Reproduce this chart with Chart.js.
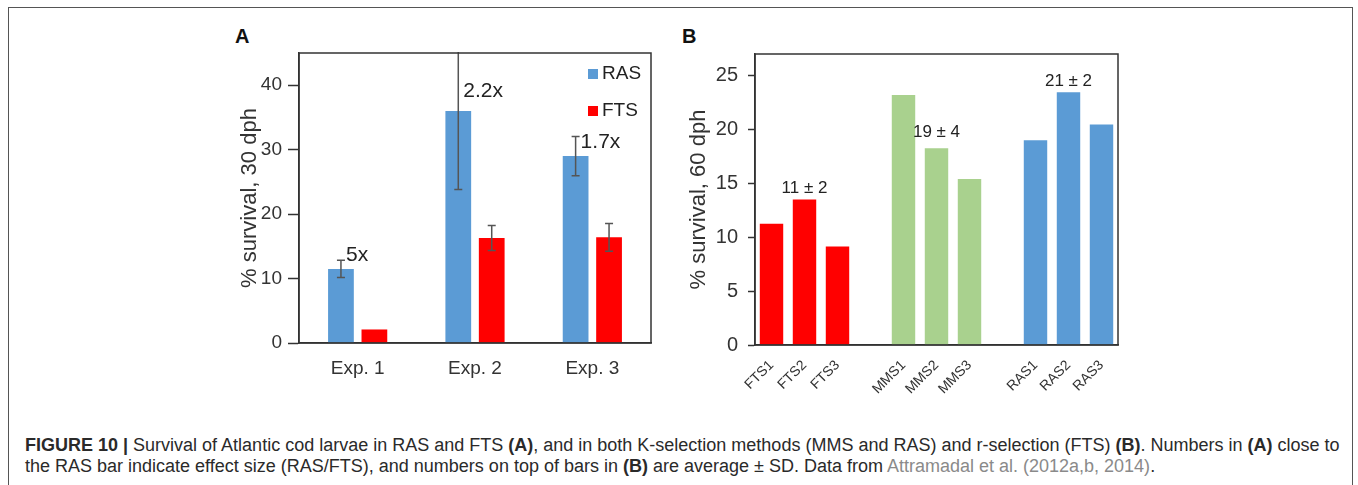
<!DOCTYPE html>
<html>
<head>
<meta charset="utf-8">
<script src="https://cdn.jsdelivr.net/npm/chart.js@4.4.0/dist/chart.umd.min.js"></script>
<style>
body { margin: 0; background: #fff; width: 1358px; height: 485px; overflow: hidden; position: relative; font-family: "Liberation Sans", Arial, sans-serif; }
#frame { position: absolute; left: 8px; top: 7px; width: 1345px; height: 520px; border: 1.5px solid #555; box-sizing: border-box; }
.panel { position: absolute; }
.tag { position: absolute; font-weight: bold; font-size: 20px; color: #111; }
#caption { position: absolute; left: 25px; top: 435px; font-size: 18px; color: #2a2a2a; line-height: 21px; white-space: nowrap; }
#caption .cite { color: #8a8a8a; }
</style>
</head>
<body>
<div id="frame"></div>
<div class="tag" style="left:235px;top:25px;">A</div>
<div class="tag" style="left:682px;top:25px;">B</div>
<div class="panel" style="left:220px;top:20px;width:440px;height:370px;"><canvas id="chartA"></canvas></div>
<div class="panel" style="left:660px;top:20px;width:480px;height:380px;"><canvas id="chartB"></canvas></div>
<div id="caption">
<div><b>FIGURE 10 |</b> Survival of Atlantic cod larvae in RAS and FTS <b>(A)</b>, and in both K-selection methods (MMS and RAS) and r-selection (FTS) <b>(B)</b>. Numbers in <b>(A)</b> close to</div>
<div>the RAS bar indicate effect size (RAS/FTS), and numbers on top of bars in <b>(B)</b> are average ± SD. Data from <span class="cite">Attramadal et al. (2012a,b, 2014)</span>.</div>
</div>
<script>
// panel A: survival at 30 dph
var expLabels = ['Exp. 1', 'Exp. 2', 'Exp. 3'];
var rasSurvival30 = [11.5, 36.0, 29.0];
var ftsSurvival30 = [2.1, 16.3, 16.4];
var rasSD30 = [1.35, 12.2, 3.05];
var ftsSD30 = [0, 1.95, 2.15];
var effectSize = ['5x', '2.2x', '1.7x'];
var effectLabelAt = [13.7, 39.0, 31.1];

// panel B: survival at 60 dph per tank
var tankLabels = ['FTS1', 'FTS2', 'FTS3', '', 'MMS1', 'MMS2', 'MMS3', '', 'RAS1', 'RAS2', 'RAS3'];
var survival60 = [11.25, 13.5, 9.15, null, 23.2, 18.25, 15.4, null, 19.0, 23.45, 20.45];
var groupMeans = ['11 ± 2', '19 ± 4', '21 ± 2'];
var groupMeanAt = [14.5, 19.7, 24.5];

var RED = '#ff0000', GREEN = '#a9d18e', BLUE = '#5b9bd5';
var INK = '#333';
var FONT = '"Liberation Sans", Arial, sans-serif';
Chart.defaults.font.family = FONT;
Chart.defaults.color = INK;

var framePlugin = {
    id: 'frame',
    afterDraw: function(chart) {
        var a = chart.chartArea, c = chart.ctx;
        c.save();
        c.strokeStyle = INK;
        c.lineWidth = 1.5;
        c.strokeRect(a.left, a.top, a.right - a.left, a.bottom - a.top);
        c.restore();
    }
};

var errorBarPlugin = {
    id: 'errorBars',
    afterDatasetsDraw: function(chart, args, opts) {
        if (!opts.sd) return;
        var c = chart.ctx, y = chart.scales.y, a = chart.chartArea;
        c.save();
        c.beginPath();
        c.rect(a.left, a.top - 1, a.right - a.left, a.bottom - a.top + 2);
        c.clip();
        c.strokeStyle = '#555';
        c.lineWidth = 1.5;
        opts.sd.forEach(function(sds, i) {
            var meta = chart.getDatasetMeta(i);
            var vals = chart.data.datasets[i].data;
            sds.forEach(function(sd, j) {
                if (!sd) return;
                var x = meta.data[j].x;
                var hi = y.getPixelForValue(vals[j] + sd), lo = y.getPixelForValue(vals[j] - sd);
                c.beginPath();
                c.moveTo(x, hi); c.lineTo(x, lo);
                c.moveTo(x - 4, hi); c.lineTo(x + 4, hi);
                c.moveTo(x - 4, lo); c.lineTo(x + 4, lo);
                c.stroke();
            });
        });
        c.restore();
    }
};

var notePlugin = {
    id: 'notes',
    afterDatasetsDraw: function(chart, args, opts) {
        if (!opts.text) return;
        var c = chart.ctx, y = chart.scales.y;
        var meta = chart.getDatasetMeta(0);
        c.save();
        c.fillStyle = '#222';
        c.font = opts.size + 'px ' + FONT;
        c.textAlign = opts.align;
        c.textBaseline = 'middle';
        opts.text.forEach(function(t, i) {
            var bar = meta.data[opts.bars[i]];
            c.fillText(t, bar.x + opts.dx, y.getPixelForValue(opts.at[i]));
        });
        c.restore();
    }
};

var boxLegendPlugin = {
    id: 'boxLegend',
    afterDraw: function(chart, args, opts) {
        if (!opts.show) return;
        var c = chart.ctx, a = chart.chartArea;
        c.save();
        c.font = '19px ' + FONT;
        c.textBaseline = 'middle';
        chart.data.datasets.forEach(function(ds, i) {
            var yy = a.top + 21 + i * 37;
            c.fillStyle = ds.backgroundColor;
            c.fillRect(a.right - 63, yy - 5, 10, 10);
            c.fillStyle = '#222';
            c.fillText(ds.label, a.right - 49, yy);
        });
        c.restore();
    }
};

function yAxis(max, step, width, tickLen, pad, titleText, titlePad, size) {
    return {
        min: 0, max: max,
        ticks: { stepSize: step, padding: pad, font: { size: size }, color: INK },
        afterBuildTicks: function(s) {
            var list = [];
            for (var v = 0; v <= max; v += step) list.push({ value: v });
            s.ticks = list;
        },
        afterFit: function(s) { s.width = width; },
        grid: { drawOnChartArea: false, drawTicks: true, tickLength: tickLen, tickColor: INK, tickWidth: 1.5 },
        border: { display: true, color: INK, width: 1.5 },
        title: { display: true, text: titleText, font: { size: 22 }, color: INK, padding: { top: titlePad, bottom: 0 } }
    };
}

new Chart(document.getElementById('chartA'), {
    type: 'bar',
    data: {
        labels: expLabels,
        datasets: [
            { label: 'RAS', data: rasSurvival30, backgroundColor: BLUE, categoryPercentage: 0.57, barPercentage: 0.77 },
            { label: 'FTS', data: ftsSurvival30, backgroundColor: RED, categoryPercentage: 0.57, barPercentage: 0.77 }
        ]
    },
    options: {
        responsive: true,
        maintainAspectRatio: false,
        animation: false,
        layout: { padding: { top: 33, right: 9, left: 0, bottom: 0 } },
        scales: {
            x: {
                grid: { display: false },
                border: { display: true, color: INK, width: 1.5 },
                ticks: { font: { size: 19 }, padding: 6, color: INK },
                afterFit: function(s) { s.height = 47; }
            },
            y: yAxis(45, 10, 79, 11, 6, '% survival, 30 dph', 17, 19)
        },
        plugins: {
            legend: { display: false },
            tooltip: { enabled: false },
            errorBars: { sd: [rasSD30, ftsSD30] },
            notes: { text: effectSize, at: effectLabelAt, bars: [0, 1, 2], dx: 5, align: 'left', size: 21 },
            boxLegend: { show: true }
        }
    },
    plugins: [framePlugin, errorBarPlugin, notePlugin, boxLegendPlugin]
});

new Chart(document.getElementById('chartB'), {
    type: 'bar',
    data: {
        labels: tankLabels,
        datasets: [{
            label: '% survival, 60 dph',
            data: survival60,
            backgroundColor: [RED, RED, RED, RED, GREEN, GREEN, GREEN, GREEN, BLUE, BLUE, BLUE],
            categoryPercentage: 1.0,
            barPercentage: 0.71
        }]
    },
    options: {
        responsive: true,
        maintainAspectRatio: false,
        animation: false,
        layout: { padding: { top: 34, right: 22, left: 0, bottom: 0 } },
        scales: {
            x: {
                grid: { display: false },
                border: { display: true, color: INK, width: 1.5 },
                ticks: { font: { size: 14 }, padding: 4, color: INK, minRotation: 45, maxRotation: 45, autoSkip: false },
                afterFit: function(s) { s.height = 55; }
            },
            y: yAxis(27, 5, 95, 7, 10, '% survival, 60 dph', 26, 20)
        },
        plugins: {
            legend: { display: false },
            tooltip: { enabled: false },
            notes: { text: groupMeans, at: groupMeanAt, bars: [1, 5, 9], dx: 0, align: 'center', size: 17 }
        }
    },
    plugins: [framePlugin, notePlugin]
});
</script>
</body>
</html>
